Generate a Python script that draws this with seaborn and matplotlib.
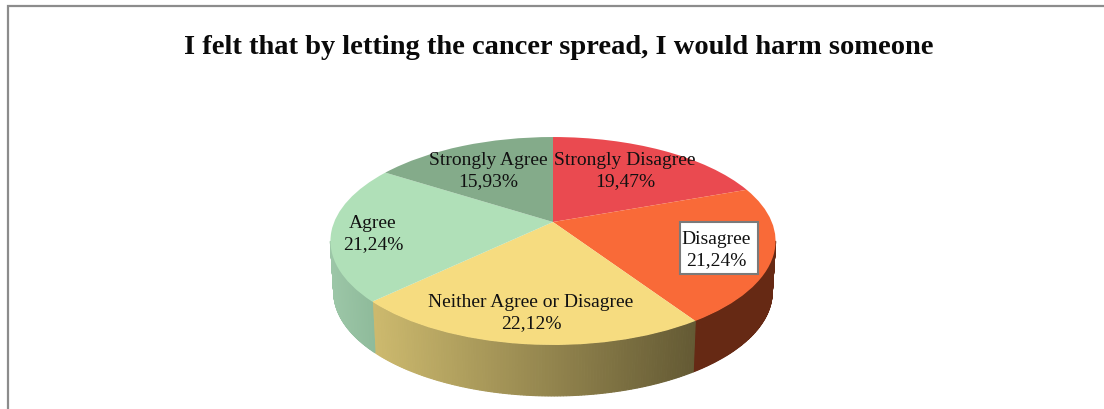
import numpy as np
import matplotlib
matplotlib.use("Agg")
import matplotlib.pyplot as plt
from matplotlib.patches import Rectangle
from matplotlib.transforms import Transform
from matplotlib.colors import to_rgb
import seaborn as sns

title = "I felt that by letting the cancer spread, I would harm someone"
categories = ["Strongly Disagree", "Disagree", "Neither Agree or Disagree", "Agree", "Strongly Agree"]
values = [19.47, 21.24, 22.12, 21.24, 15.93]
top_colors = ["#EA4A50", "#F96A38", "#F6DC80", "#B0E0B8", "#84AB8A"]
wall_left = ["#B02E30", "#662914", "#CDBA6E", "#9CC6A7", "#6C8C70"]
wall_right = ["#B02E30", "#662914", "#645A34", "#8FBB9B", "#6C8C70"]
label_xy = [(625, 171), (716, 250), (531, 313), (373, 234), (488, 171)]

sns.set_theme(style="white")
plt.rcParams["font.family"] = ["Liberation Serif", "DejaVu Serif"]

CX, CY = 553.0, 223.0
A, B, K = 218.8, 100.5, 0.1827
DEPTH, SHRINK = 51.0, 0.985


def project(uv):
    uv = np.asarray(uv, dtype=float)
    u, v = uv[..., 0], uv[..., 1]
    w = 1 + K * v
    return np.stack([CX + A * u / w, CY - B * v / w], axis=-1)


class Perspective(Transform):
    input_dims = output_dims = 2
    is_separable = False
    has_inverse = False

    def transform_non_affine(self, values):
        return project(values)


fig = plt.figure(figsize=(11.04, 4.10), dpi=100, facecolor="white")
ax = fig.add_axes([0, 0, 1, 1])

wedges, _ = ax.pie(values, colors=sns.color_palette(top_colors), startangle=90,
                   counterclock=False, wedgeprops={"linewidth": 0, "zorder": 3})
persp = Perspective() + ax.transData
for w in wedges:
    w.set_transform(persp)
ax.set_aspect("auto")
ax.set_xlim(0, 1104)
ax.set_ylim(410, 0)
ax.set_axis_off()

# side wall of the disc, from the same slice boundaries
edges = np.cumsum([0] + values) / sum(values) * 360.0
for i in range(len(values)):
    lo, hi = max(edges[i], 100.5), min(edges[i + 1], 259.5)
    if hi <= lo:
        continue
    th = np.radians(np.linspace(lo, hi, 121))
    top = project(np.column_stack([np.sin(th), np.cos(th)]))
    bot = top.copy()
    bot[:, 0] = CX + (bot[:, 0] - CX) * SHRINK
    bot[:, 1] += DEPTH
    c_l, c_r = np.array(to_rgb(wall_left[i])), np.array(to_rgb(wall_right[i]))
    x_min, x_max = top[:, 0].min(), top[:, 0].max()
    for j in range(len(th) - 1):
        t = (top[j, 0] - x_min) / max(x_max - x_min, 1e-6)
        col = c_l + (c_r - c_l) * t
        ax.fill([top[j, 0], top[j + 1, 0], bot[j + 1, 0], bot[j, 0]],
                [top[j, 1], top[j + 1, 1], bot[j + 1, 1], bot[j, 1]],
                color=col, lw=0.8, zorder=1)

# outer frame, left and top only
ax.plot([7.5, 7.5, 1104], [410, 6.5, 6.5], color="#8C8C8C", lw=1.6, zorder=1,
        solid_joinstyle="miter", clip_on=False)

ax.text(559, 48, title, ha="center", va="center", fontsize=20.5, fontweight="bold",
        color="#0A0A0A", zorder=6)

ax.add_patch(Rectangle((680, 223), 78, 52, fc="white", ec="#7A7A7A", lw=1.5, zorder=4))

for name, val, (x, y) in zip(categories, values, label_xy):
    ax.text(x, y, f"{name}\n{val:.2f}%".replace(".", ","), ha="center", va="center",
            fontsize=14, color="#111111", linespacing=1.25, zorder=6)

fig.savefig("out.png", dpi=100, facecolor="white")
